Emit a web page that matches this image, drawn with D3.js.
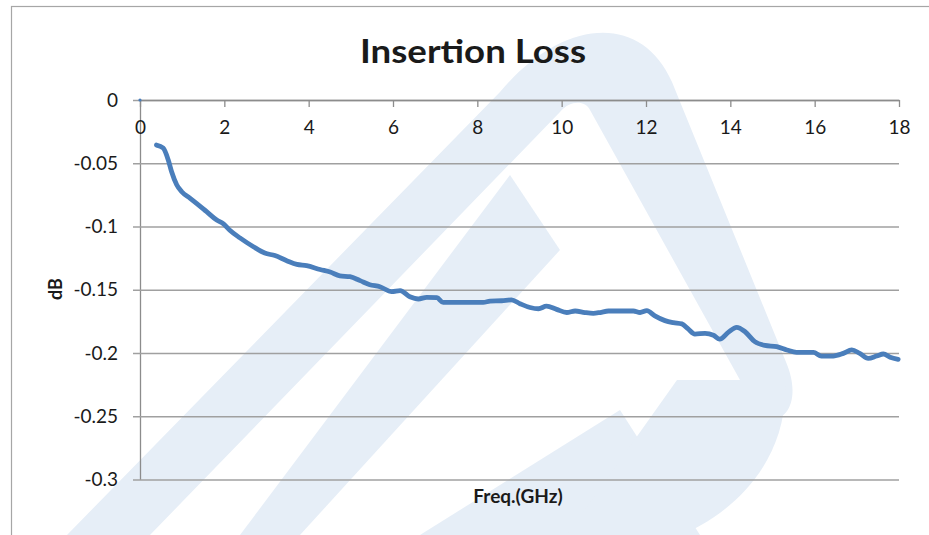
<!DOCTYPE html>
<html>
<head>
<meta charset="utf-8">
<script src="https://cdn.jsdelivr.net/npm/d3@7"></script>
<style>
html,body{margin:0;padding:0;background:#fff;}
svg{display:block;}
text{font-family:Lato,"Open Sans",sans-serif;}
</style>
</head>
<body>
<svg id="chart" width="929" height="535"></svg>
<script>
// ---- data ----
const freqGHz = [0.39,0.55,0.67,0.75,0.87,0.99,1.19,1.34,1.58,1.82,1.98,2.13,2.37,2.69,2.96,3.2,3.48,3.72,3.95,4.27,4.51,4.74,4.98,5.22,5.45,5.69,5.97,6.17,6.40,6.6,6.8,7.04,7.19,7.67,8.14,8.3,8.58,8.81,9.01,9.25,9.45,9.64,9.88,10.12,10.32,10.55,10.75,10.91,11.11,11.38,11.7,11.86,12.02,12.21,12.45,12.65,12.85,13.0,13.16,13.4,13.6,13.75,13.95,14.15,14.35,14.58,14.82,15.1,15.34,15.57,15.97,16.16,16.44,16.68,16.88,17.07,17.27,17.47,17.63,17.79,17.98];
const lossDB = [-0.0356,-0.038,-0.0474,-0.0567,-0.067,-0.0725,-0.0777,-0.0817,-0.0883,-0.0949,-0.098,-0.103,-0.109,-0.116,-0.121,-0.123,-0.127,-0.130,-0.131,-0.134,-0.136,-0.139,-0.1397,-0.1428,-0.146,-0.1476,-0.1515,-0.1507,-0.1555,-0.1573,-0.156,-0.1563,-0.160,-0.160,-0.160,-0.159,-0.1587,-0.158,-0.161,-0.164,-0.165,-0.163,-0.1655,-0.168,-0.1668,-0.168,-0.1686,-0.168,-0.1668,-0.1668,-0.1668,-0.168,-0.1665,-0.1707,-0.1744,-0.176,-0.177,-0.181,-0.185,-0.1845,-0.186,-0.189,-0.1837,-0.1797,-0.1832,-0.191,-0.194,-0.195,-0.1976,-0.1995,-0.1995,-0.2024,-0.2024,-0.2003,-0.1976,-0.2003,-0.2042,-0.2024,-0.2008,-0.2034,-0.205];
const isolatedPoint = [[0, 0]];
const xTicks = [0,2,4,6,8,10,12,14,16,18];
const yTicks = [0,-0.05,-0.1,-0.15,-0.2,-0.25,-0.3];
const yTickLabels = ["0","-0.05","-0.1","-0.15","-0.2","-0.25","-0.3"];
const titleText = "Insertion Loss";
const xTitle = "Freq.(GHz)";
const yTitle = "dB";

// ---- decorative background watermark (logo) ----
const watermark = [
  "M67,535 L500,92 C560,20 640,10 672,82 L786,362 C800,395 790,420 770,420 L740,380 L590,110 C585,100 570,100 560,112 L150,535 Z",
  "M240,535 L510,175 L560,250 L300,535 Z",
  "M420,535 L620,410 L700,535 Z",
  "M677,380 L785,380 C790,470 720,520 680,535 L567,535 Z"
];

const svg = d3.select("#chart");
const W = 929, H = 535;

svg.append("rect").attr("x",11.5).attr("y",6.5).attr("width",W).attr("height",H)
  .attr("fill","#fff").attr("stroke","#a6a6a6").attr("stroke-width",1.2);

svg.append("g").selectAll("path").data(watermark).join("path")
  .attr("d", d=>d).attr("fill","#e6eef7");

const x = d3.scaleLinear().domain([0,18]).range([140,899]);
const y = d3.scaleLinear().domain([-0.3,0]).range([479.5,100]);

// gridlines + y axis
const yAxis = d3.axisLeft(y).tickValues(yTicks)
  .tickFormat((d,i)=>yTickLabels[i]).tickSize(-(899-140)).tickSizeOuter(0).tickPadding(22);
const gy = svg.append("g").attr("transform","translate(140,0)").call(yAxis);
gy.select(".domain").attr("stroke","#8c8c8c").attr("stroke-width",1.3);
gy.selectAll(".tick line").attr("stroke","#a0a0a0").attr("stroke-width",1.3).attr("x1",-7);
gy.selectAll(".tick text").attr("font-size",19).attr("fill","#1a1a1a").attr("x",-22);

// x axis at y=0
const xAxis = d3.axisBottom(x).tickValues(xTicks).tickSize(7).tickSizeOuter(0).tickPadding(14);
const gx = svg.append("g").attr("transform",`translate(0,${y(0)})`).call(xAxis);
gx.select(".domain").attr("stroke","#8c8c8c").attr("stroke-width",1.3);
gx.selectAll(".tick line").attr("stroke","#8c8c8c").attr("stroke-width",1.3);
gx.selectAll(".tick text").attr("font-size",19).attr("fill","#1a1a1a");

// line
const pts = freqGHz.map((f,i)=>[f,lossDB[i]]);
const line = d3.line().x(d=>x(d[0])).y(d=>y(d[1])).curve(d3.curveMonotoneX);
svg.append("path").datum(pts).attr("d",line).attr("fill","none")
  .attr("stroke","#4a7ebb").attr("stroke-width",4.8)
  .attr("stroke-linejoin","round").attr("stroke-linecap","round");
svg.selectAll("circle.iso").data(isolatedPoint).join("circle").attr("class","iso")
  .attr("cx",d=>x(d[0])).attr("cy",d=>y(d[1])).attr("r",1.6).attr("fill","#4a7ebb");

// titles
svg.append("text").attr("x",473).attr("y",63).attr("text-anchor","middle")
  .attr("font-size",33).attr("font-weight","bold").attr("fill","#1a1a1a")
  .attr("textLength",226).attr("lengthAdjust","spacingAndGlyphs").text(titleText);
svg.append("text").attr("x",518).attr("y",503).attr("text-anchor","middle")
  .attr("font-size",19).attr("font-weight","bold").attr("fill","#1a1a1a").text(xTitle);
svg.append("text").attr("transform","translate(62,289) rotate(-90)").attr("text-anchor","middle")
  .attr("font-size",18).attr("font-weight","bold").attr("fill","#1a1a1a").text(yTitle);
</script>
</body>
</html>
